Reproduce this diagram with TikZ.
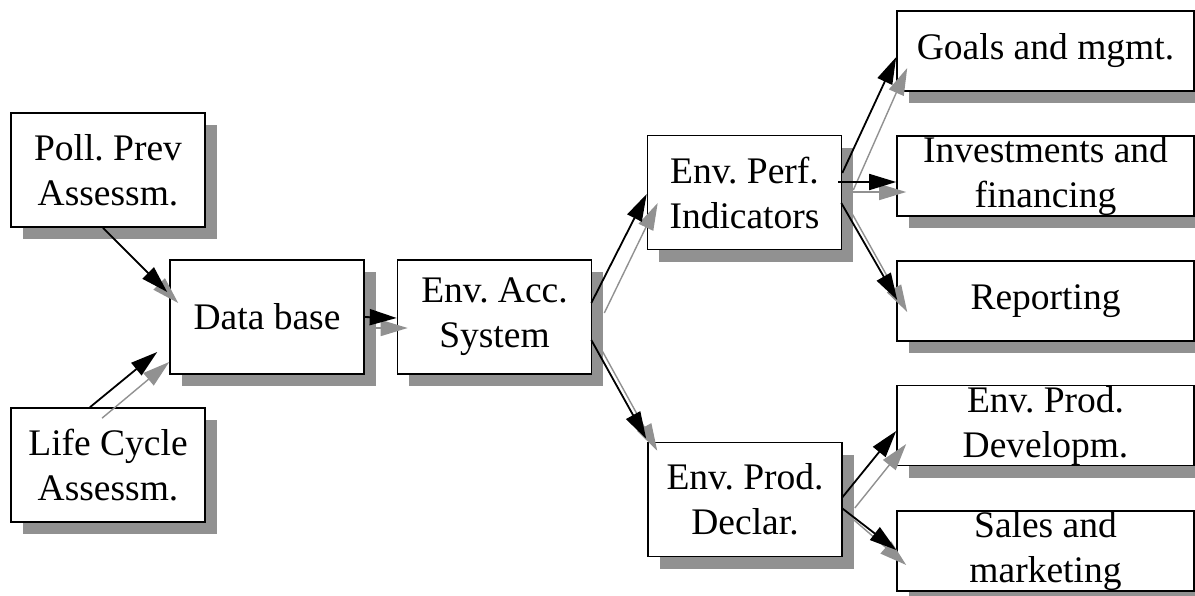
\documentclass[tikz,border=0pt]{standalone}
\usepackage{fontspec}
\setmainfont{Liberation Serif}
\usetikzlibrary{arrows.meta,shadows,calc}
\definecolor{shade}{gray}{0.57}
\frenchspacing
\begin{document}
\begin{tikzpicture}[x=1pt,y=-1pt,
  box/.style={draw=black, line width=1.6pt, fill=white, align=center,
    inner sep=0pt, font=\fontsize{37.5}{45}\selectfont,
    drop shadow={shadow xshift=11.5pt, shadow yshift=-12pt, fill=shade, opacity=1}},
  leftbox/.style={box, minimum width=194pt, minimum height=114pt},
  rightbox/.style={box, minimum width=297pt, minimum height=80pt},
  flow/.style={line width=1.8pt, -{Triangle[length=27pt,width=16pt]}},
  echo/.style={line width=1.4pt, draw=shade, -{Triangle[length=27pt,width=16pt,fill=shade]}}]

\path[fill=white, use as bounding box] (0,0) rectangle (1195,595);

% boxes
\node[leftbox] (poll) at (108,170) {Poll. Prev\\Assessm.};
\node[leftbox] (life) at (108,465) {Life Cycle\\Assessm.};
\node[leftbox] (db) at (267,317) {Data base};
\node[leftbox] (acc) at (494.5,317) {Env. Acc.\\System};
\node[leftbox] (perf) at (744.5,192.5) {Env. Perf.\\Indicators};
\node[leftbox] (decl) at (745,499.5) {Env. Prod.\\Declar.};
\node[rightbox] (goals) at (1045.5,51) {Goals and mgmt.};
\node[rightbox] (invest) at (1045.5,176) {Investments and\\financing};
\node[rightbox] (report) at (1045.5,301) {Reporting};
\node[rightbox] (develop) at (1045.5,425.5) {Env. Prod.\\Developm.};
\node[rightbox] (sales) at (1045.5,551) {Sales and\\marketing};

% connectors: grey echo first, black arrow on top
\draw[echo] ($(poll.south)+(6,11)$) -- ($(db.west)+(9,-14)$);
\draw[flow] ($(poll.south)+(-5,0)$) -- ($(db.west)+(-2,-25)$);

\draw[echo] ($(life.north)+(-6,11)$) -- ($(db.west)+(0,45)$);
\draw[flow] ($(life.north)+(-18,0)$) -- ($(db.west)+(-12,35)$);

\draw[echo] ($(db.east)+(10,11)$) -- ($(acc.west)+(11,11)$);
\draw[flow] ($(db.east)+(-1,0)$) -- ($(acc.west)+(0,1)$);

\draw[echo] ($(acc.east)+(12,-4)$) -- ($(perf.west)+(11,10.5)$);
\draw[flow] ($(acc.east)+(-1,-14)$) -- ($(perf.west)+(0,1.5)$);

\draw[echo] ($(acc.east)+(10,34)$) -- ($(decl.north west)+(10,9)$);
\draw[flow] ($(acc.east)+(-1,23)$) -- ($(decl.north west)+(-1,-3)$);

\draw[echo] ($(perf.east)+(11,-2.5)$) -- ($(goals.west)+(11,17)$);
\draw[flow] ($(perf.east)+(0,-19.5)$) -- ($(goals.west)+(0,6)$);

\draw[echo] ($(perf.east)+(11,-0.5)$) -- ($(invest.west)+(10,16)$);
\draw[flow] ($(perf.east)+(-4,-10.5)$) -- ($(invest.west)+(0,6)$);

\draw[echo] ($(perf.east)+(10,21.5)$) -- ($(report.west)+(11,11)$);
\draw[flow] ($(perf.east)+(-1,10.5)$) -- ($(report.west)+(1,-1)$);

\draw[echo] ($(decl.east)+(12,8.5)$) -- ($(develop.west)+(10,18.5)$);
\draw[flow] ($(decl.east)+(-1,-1.5)$) -- ($(develop.west)+(0,5.5)$);

\draw[echo] ($(decl.east)+(10,19.5)$) -- ($(sales.west)+(10,14)$);
\draw[flow] ($(decl.east)+(-1,8.5)$) -- ($(sales.west)+(0,-1)$);
\end{tikzpicture}
\end{document}
